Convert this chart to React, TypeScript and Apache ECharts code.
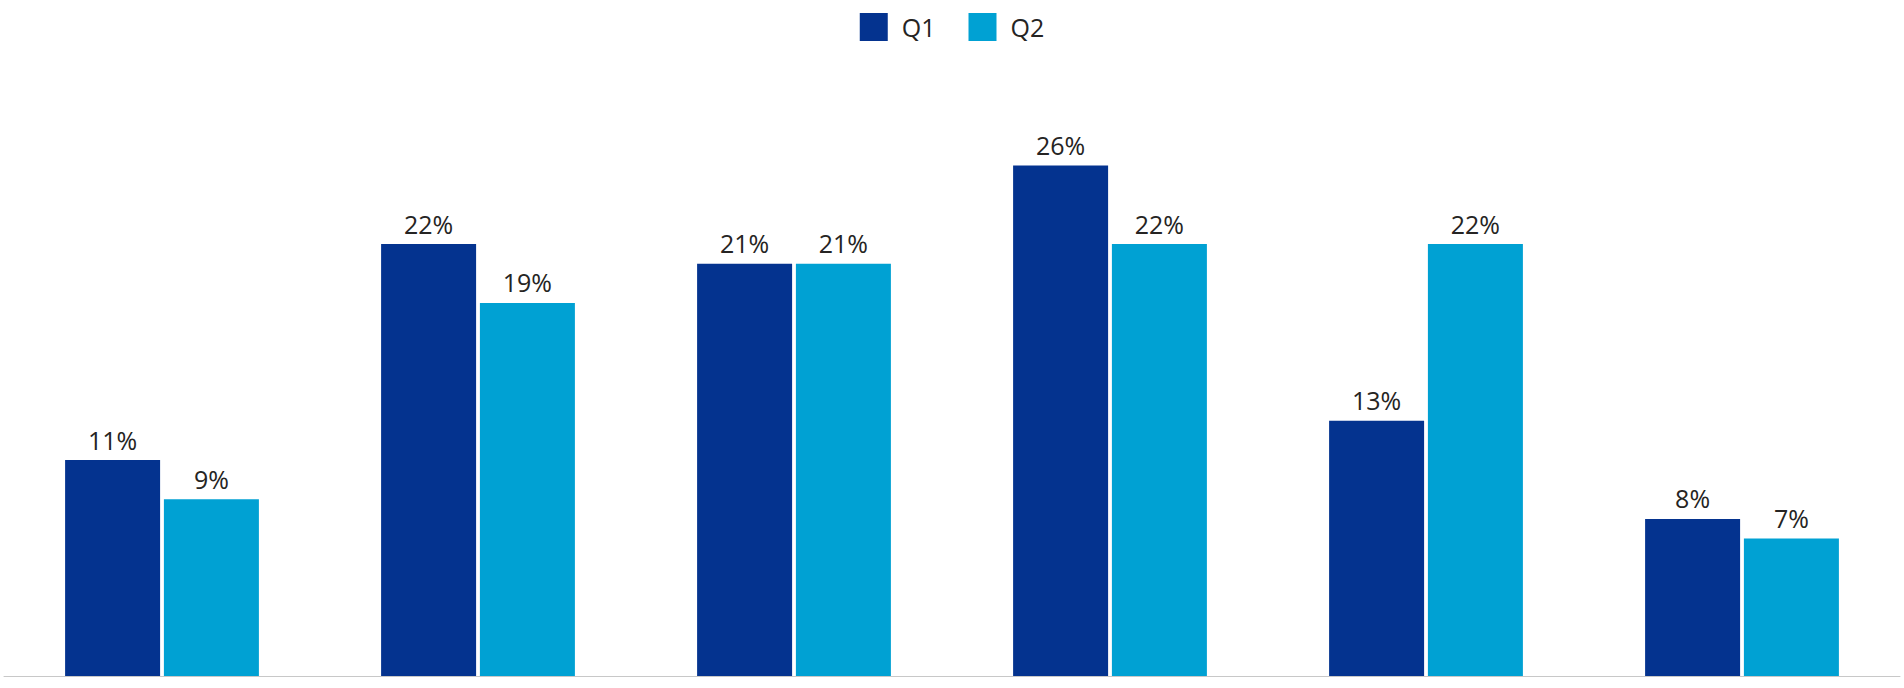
import React, { useEffect, useRef } from "react";
import * as echarts from "echarts";

const categories = ["A", "B", "C", "D", "E", "F"];
const q1Values = [11, 22, 21, 26, 13, 8];
const q2Values = [9, 19, 21, 22, 22, 7];
const seriesNames = ["Q1", "Q2"];

export default function App() {
  const ref = useRef<HTMLDivElement>(null);
  useEffect(() => {
    if (!ref.current) return;
    const chart = echarts.init(ref.current, null, { renderer: "svg" });
    const font = "'Open Sans', 'Noto Sans', sans-serif";
    const label = {
      show: true,
      position: "top" as const,
      distance: 8,
      formatter: "{c}%",
      color: "#252423",
      fontSize: 25,
      fontFamily: font,
    };
    chart.setOption({
      animation: false,
      backgroundColor: "#ffffff",
      legend: {
        top: 8,
        left: "center",
        itemWidth: 28,
        itemHeight: 28,
        itemGap: 33,
        icon: "rect",
        textStyle: {
          fontSize: 25,
          color: "#252423",
          fontFamily: font,
          padding: [0, 0, 0, 9],
        },
        data: seriesNames,
      },
      grid: { left: 4, right: 4, top: 85, bottom: 12, containLabel: false },
      xAxis: {
        type: "category",
        data: categories,
        axisLine: { show: true, lineStyle: { color: "#c8c8c8", width: 1 } },
        axisTick: { show: false },
        axisLabel: { show: false },
      },
      yAxis: {
        type: "value",
        min: 0,
        max: 30.1,
        show: false,
        splitLine: { show: false },
      },
      series: [
        {
          name: seriesNames[0],
          type: "bar",
          data: q1Values,
          barWidth: 95,
          barGap: "4%",
          itemStyle: { color: "#04338F" },
          label,
        },
        {
          name: seriesNames[1],
          type: "bar",
          data: q2Values,
          barWidth: 95,
          barGap: "4%",
          itemStyle: { color: "#00A1D3" },
          label,
        },
      ],
    });
    return () => chart.dispose();
  }, []);
  return (
    <div
      ref={ref}
      style={{ position: "fixed", left: 0, top: 0, width: 1904, height: 688 }}
    />
  );
}
